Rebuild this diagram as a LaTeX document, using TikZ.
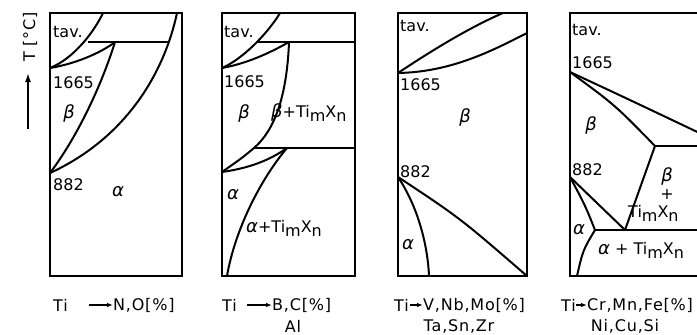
\documentclass[tikz,border=0pt]{standalone}
\usepackage{fontspec}
\setmainfont{DejaVu Sans}
\newfontfamily\spaced[LetterSpace=5]{DejaVu Sans}
\usetikzlibrary{arrows.meta}
\newcommand{\TiX}{Ti\raisebox{-0.45ex}{m}X\raisebox{-0.45ex}{n}}
\newcommand{\gb}{{\fontsize{18}{18}\selectfont\textit{β}}}
\newcommand{\ga}{{\fontsize{18}{18}\selectfont\textit{α}}}
\begin{document}
\begin{tikzpicture}[x=1pt,y=-1pt,
  frame/.style={line width=1.5pt},
  curve/.style={line width=2pt},
  lbl/.style={inner sep=0pt,font=\fontsize{16}{16}\selectfont},
  lw/.style={lbl,anchor=west},
  big/.style={inner sep=0pt,font=\spaced\fontsize{16}{16}\selectfont},
  bw/.style={big,anchor=west},
  ax/.style={line width=1.5pt,-{Latex[length=9pt,width=6pt]}},
  bax/.style={line width=1.1pt,-{Latex[length=6pt,width=4.5pt]}}]
\useasboundingbox (0,0) rectangle (697,335);
\clip (0,0) rectangle (697,335);
% ---------- axis label
\node[big,rotate=90] (tlab) at (30,37) {T [°C]};
\coordinate (a0) at (28,129);
\coordinate (a1) at (28,73);
\draw[ax] (a0) -- (a1);
% ---------- panel 1
\draw[frame] (50,13) rectangle (182,276);
\draw[curve] (50,68) .. controls (75,58) and (95,30) .. (103,13);
\draw[curve] (88,42) -- (168,42);
\draw[curve] (50,68) .. controls (80,63) and (105,50) .. (115,42);
\draw[curve] (115,42) .. controls (100,90) and (75,140) .. (50,173);
\draw[curve] (50,173) .. controls (122,140) and (163,78) .. (177,13);
\node[lw] at (53,32) {tav.};
\node[lw] at (53,83) {1665};
\node[lbl] at (69,113) {\gb};
\node[lw] at (53,185) {882};
\node[lbl] at (118,192) {\ga};
\node[bw] at (53,305) {Ti};
\draw[bax] (89,305) -- (113,305);
\node[bw] at (113,305) {N,O[\%]};
% ---------- panel 2
\draw[frame] (222,13) rectangle (355,276);
\draw[curve] (222,68) .. controls (245,58) and (270,30) .. (280,13);
\draw[curve] (257,42) -- (355,42);
\draw[curve] (222,68) .. controls (250,63) and (275,50) .. (289,42);
\draw[curve] (289,42) .. controls (287,95) and (275,130) .. (254,148) .. controls (242,158) .. (222,172);
\draw[curve] (254,148) -- (355,148);
\draw[curve] (222,172) .. controls (250,168) and (270,160) .. (287,148);
\draw[curve] (287,148) .. controls (260,180) and (235,230) .. (227,276);
\node[lw] at (224,32) {tav.};
\node[lw] at (224,82) {1665};
\node[lbl] at (244,113) {\gb};
\node[lw] at (271,113) {\gb+\TiX};
\node[lbl] at (233,195) {\ga};
\node[lw] at (246,228) {\ga+\TiX};
\node[bw] at (222,305) {Ti};
\draw[bax] (247,305) -- (272,305);
\node[bw] at (272,305) {B,C[\%]};
\node[big] at (293,326) {Al};
% ---------- panel 3
\draw[frame] (398,13) rectangle (527,276);
\draw[curve] (398,73) .. controls (440,45) and (475,25) .. (503,13);
\draw[curve] (398,73) .. controls (450,72) and (490,52) .. (527,33);
\draw[curve] (398,177) .. controls (460,218) .. (527,276);
\draw[curve] (398,177) .. controls (420,210) and (428,250) .. (429,276);
\node[lw] at (400,26) {tav.};
\node[lw] at (400,85) {1665};
\node[lbl] at (465,117) {\gb};
\node[lw] at (400,172) {882};
\node[lbl] at (408,245) {\ga};
\node[bw] at (394,305) {Ti};
\draw[bax] (410,305) -- (423,305);
\node[bw] at (423,305) {V,Nb,Mo[\%]};
\node[big] at (459,326) {Ta,Sn,Zr};
% ---------- panel 4
\draw[frame] (710,13) -- (570,13) -- (570,276) -- (710,276);
\draw[curve] (570,72) .. controls (630,100) .. (710,138);
\draw[curve] (570,72) .. controls (615,105) .. (655,146);
\draw[curve] (655,146) -- (710,146);
\draw[curve] (655,146) -- (625,230);
\draw[curve] (595,230) -- (710,230);
\draw[curve] (570,177) -- (625,230);
\draw[curve] (570,177) .. controls (585,205) .. (595,230);
\draw[curve] (595,230) .. controls (583,250) .. (577,276);
\node[lw] at (572,30) {tav.};
\node[lw] at (572,63) {1665};
\node[lbl] at (591,125) {\gb};
\node[lw] at (572,170) {882};
\node[lbl] at (667,176) {\gb};
\node[lbl] at (667,194) {+};
\node[lw] at (628,213) {\TiX};
\node[lbl] at (579,230) {\ga};
\node[lw] at (598,250) {\ga{} + \TiX};
\node[bw] at (561,305) {Ti};
\draw[bax] (576,305) -- (587,305);
\node[bw] at (587,305) {Cr,Mn,Fe[\%]};
\node[big] at (625,326) {Ni,Cu,Si};
\end{tikzpicture}
\end{document}
